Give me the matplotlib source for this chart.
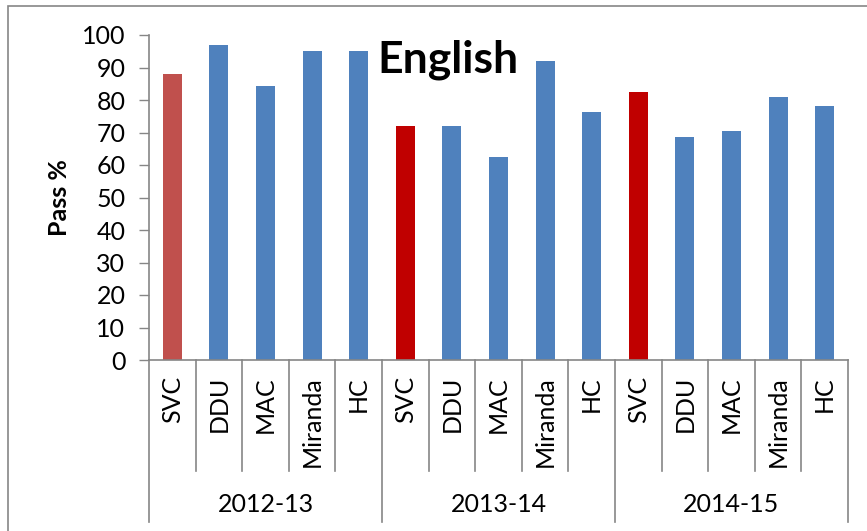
import matplotlib
matplotlib.use("Agg")
import matplotlib.pyplot as plt
from matplotlib.patches import Rectangle

plt.rcParams['font.family'] = ['Lato', 'DejaVu Sans']

years = ["2012-13", "2013-14", "2014-15"]
colleges = ["SVC", "DDU", "MAC", "Miranda", "HC"]
pass_pct = [
    [88, 97, 84.3, 95, 95],
    [72, 72, 62.5, 92, 76.2],
    [82.5, 68.5, 70.6, 80.8, 78.2],
]
svc_colors = ["#C0504D", "#C00000", "#C00000"]
blue = "#4F81BD"
grey = "#868686"

W, H = 867, 531
fig = plt.figure(figsize=(W / 100, H / 100), dpi=100)

# chart area frame (cut off at right/bottom in the reference)
fig.patches.append(Rectangle((8 / W, -0.1), 1.2, (H - 6) / H + 0.1,
                             transform=fig.transFigure, fill=False,
                             edgecolor=grey, lw=1.2))

ax = fig.add_axes([149 / W, (H - 360) / H, (848 - 149) / W, (360 - 35) / H])

n = len(colleges)
x = 0
for g, vals in enumerate(pass_pct):
    for i, v in enumerate(vals):
        c = svc_colors[g] if i == 0 else blue
        ax.bar(x, v, width=0.41, color=c, zorder=2)
        x += 1
total = x

ax.set_xlim(-0.5, total - 0.5)
ax.set_ylim(0, 100)
ax.set_yticks(range(0, 101, 10))
ax.tick_params(axis='y', labelsize=18, length=7, width=1, color=grey, pad=10)
ax.set_xticks([])
for s in ['top', 'right']:
    ax.spines[s].set_visible(False)
for s in ['left', 'bottom']:
    ax.spines[s].set_color(grey)
    ax.spines[s].set_linewidth(1.2)

ax.set_ylabel("Pass %", fontsize=18, fontweight='bold', labelpad=8)

# multi-level category axis
tr = ax.get_xaxis_transform()
h1 = (471 - 360) / 325
h2 = (522 - 360) / 325
for k in range(total + 1):
    xb = k - 0.5
    depth = h2 if k % n == 0 else h1
    ax.plot([xb, xb], [0, -depth], transform=tr, color=grey, lw=1.2,
            clip_on=False)
x = 0
for g, yr in enumerate(years):
    for name in colleges:
        ax.text(x, -16 / 325, name, transform=tr, rotation=90,
                ha='center', va='top', fontsize=18)
        x += 1
    ax.text(g * n + (n - 1) / 2, -(505 - 360) / 325, yr, transform=tr,
            ha='center', va='center', fontsize=18)

fig.text(448 / W, (H - 72) / H, "English", ha='center', va='baseline',
         fontsize=32, fontweight='bold')

fig.savefig("out.png", dpi=100)
